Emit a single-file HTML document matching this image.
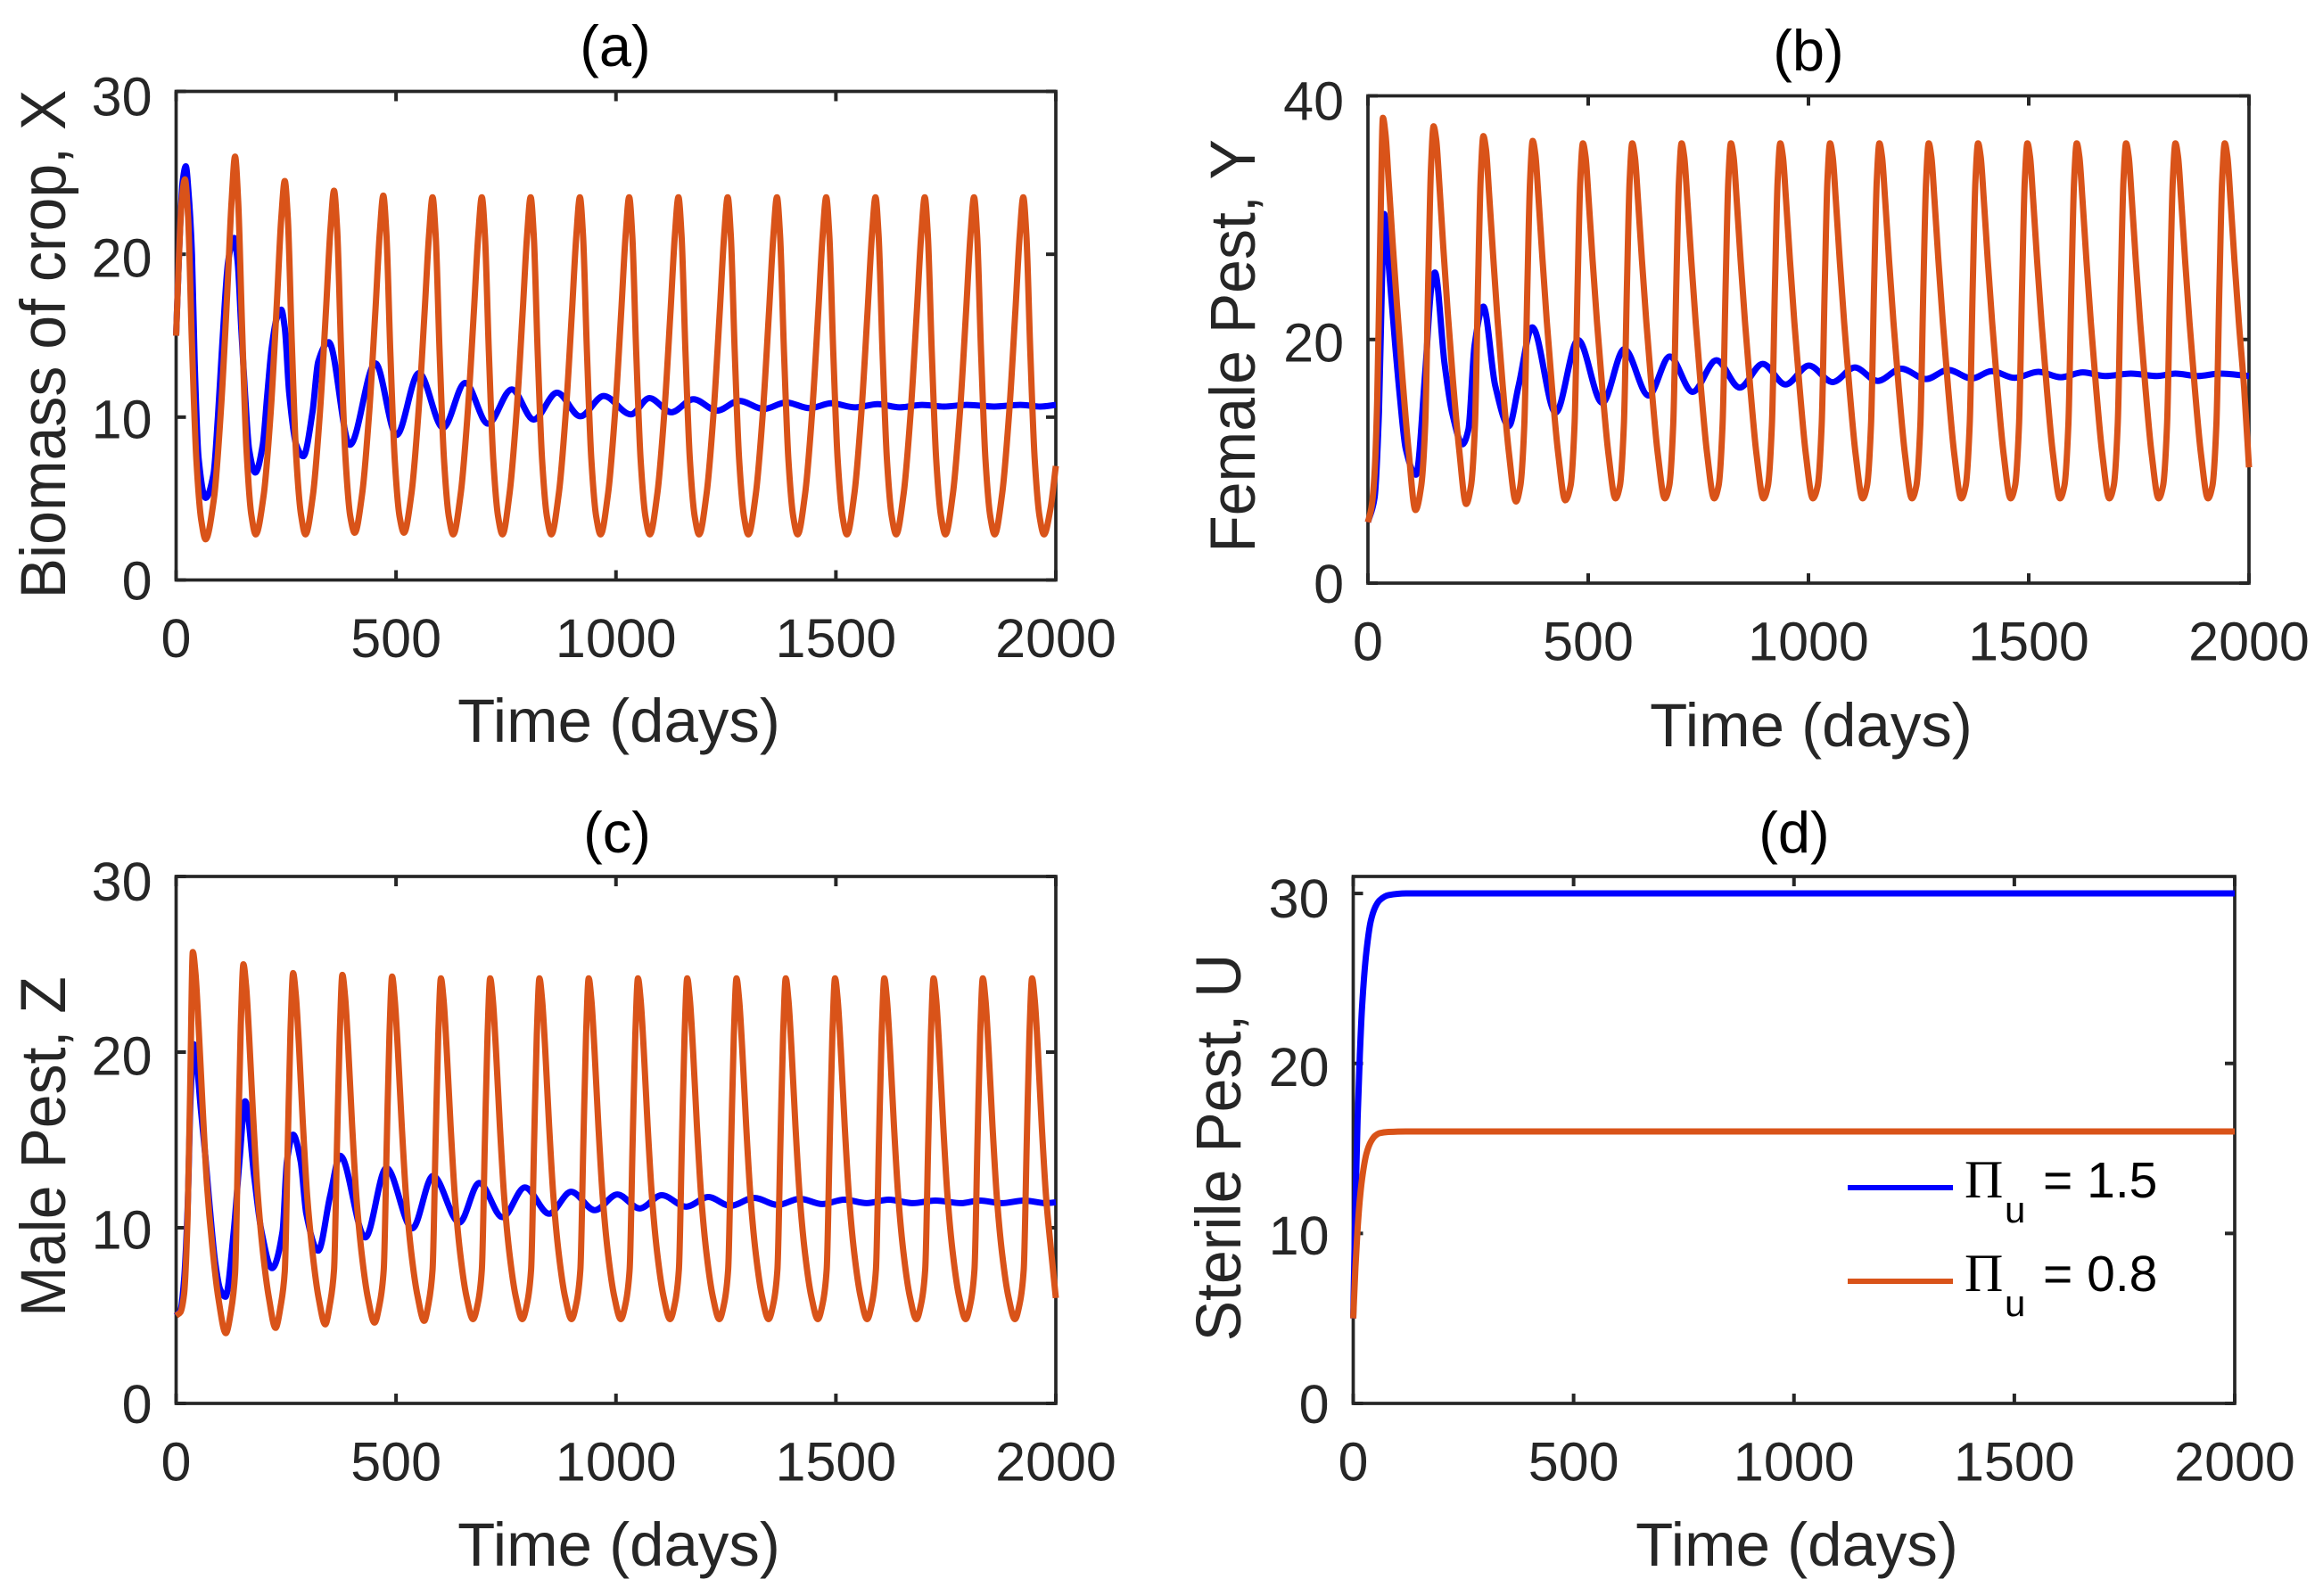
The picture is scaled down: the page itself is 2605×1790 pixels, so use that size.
<!DOCTYPE html>
<html lang="en">
<head>
<meta charset="utf-8">
<title>Crop and pest dynamics</title>
<style>
html,body{margin:0;padding:0;background:#fff;width:2605px;height:1790px;overflow:hidden}
svg{display:block}
text{font-family:"Liberation Sans",Arial,sans-serif}
.tick{font-size:61px;fill:#262626}
.lab{font-size:69px;fill:#262626;text-anchor:middle}
.ttl{font-size:65px;fill:#000;text-anchor:middle}
.ylab{font-size:68px;fill:#262626;text-anchor:middle}
.leg{font-size:57px;fill:#000}
</style>
</head>
<body>
<svg id="fig" xmlns="http://www.w3.org/2000/svg" width="2605" height="1790" viewBox="0 0 2605 1790">
<rect x="0" y="0" width="2605" height="1790" fill="#fff"/>
<g id="panel-a">
<text class="ttl" x="690" y="74">(a)</text>
<text class="lab" x="694" y="832">Time (days)</text>
<text class="ylab" transform="translate(73 386) rotate(-90) scale(1 1.05)">Biomass of crop, X</text>
</g>
<g id="panel-b">
<text class="ttl" x="2028" y="79">(b)</text>
<text class="lab" x="2031" y="837">Time (days)</text>
<text class="ylab" transform="translate(1407 388) rotate(-90) scale(1 1.05)">Female Pest, Y</text>
</g>
<g id="panel-c">
<text class="ttl" x="692" y="956">(c)</text>
<text class="lab" x="694" y="1756">Time (days)</text>
<text class="ylab" transform="translate(73 1286) rotate(-90) scale(1 1.05)">Male Pest, Z</text>
</g>
<g id="panel-d">
<text class="ttl" x="2012" y="956">(d)</text>
<text class="lab" x="2015" y="1756">Time (days)</text>
<text class="ylab" transform="translate(1391 1287) rotate(-90) scale(1 1.05)">Sterile Pest, U</text>
</g>
<g id="legend">
<g>
<line x1="2072" x2="2190" y1="1332" y2="1332" stroke="#0000ff" stroke-width="6"/>
<text class="leg" x="2203" y="1343" style="font-family:'Liberation Serif',serif;font-size:60px">Π</text>
<text x="2248" y="1371" style="font-size:42px">u</text>
<text class="leg" x="2291" y="1343">= 1.5</text>
</g>
<g>
<line x1="2072" x2="2190" y1="1437" y2="1437" stroke="#d95319" stroke-width="6"/>
<text class="leg" x="2203" y="1448" style="font-family:'Liberation Serif',serif;font-size:60px">Π</text>
<text x="2248" y="1476" style="font-size:42px">u</text>
<text class="leg" x="2291" y="1448">= 0.8</text>
</g>
</g>
</svg>
<script>
var xTickLabels = [0, 500, 1000, 1500, 2000];
var yTicksA = [0, 10, 20, 30];
var yTicksB = [0, 20, 40];
var yTicksC = [0, 10, 20, 30];
var yTicksD = [0, 10, 20, 30];

var aBlueT = [0,8,15,22,29,36,42,51,67,85,95,105,118,125,132,140,148,157,166,180,197,207,217,228,239,247,257,273,289,310,323,347,395,453,501,552,607,657,709,763,813,866,919,972,1034,1076,1126,1176,1230,1280,1336,1387,1440,1490,1544,1595,1645,1696,1746,1797,1860,1920,1965,2000];
var aBlueV = [15,21,24.5,25.4,23.5,20,13.5,7.5,5.04,6.5,10,14.5,19.5,20.5,21,19.5,15.5,11.3,8,6.6,8.3,11.3,14.2,16,16.6,15.5,11.5,8.3,7.6,10.3,13.4,14.6,8.3,13.3,8.9,12.7,9.35,12.1,9.6,11.7,9.85,11.5,10.05,11.3,10.17,11.17,10.3,11.1,10.4,11,10.5,10.9,10.55,10.85,10.6,10.8,10.6,10.75,10.65,10.75,10.65,10.75,10.65,10.75];

var aOrangeT = [0,6,12,20,27,36,46,57,67,
86,102,116,126,134,141,150,160,171,181,
199,215,229,239,247,254,263,273,284,294,
311,327,341,351,359,366,375,385,396,406,
423,439,453,463,471,478,487,497,508,518,
535,551,565,575,583,590,599,609,620,630,
647,663,677,687,695,702,711,721,732,742,
758,774,788,798,806,813,822,832,843,853,
870,886,900,910,918,925,934,944,955,965,
982,998,1012,1022,1030,1037,1046,1056,1067,1077,
1094,1110,1124,1134,1142,1149,1158,1168,1179,1189,
1206,1222,1236,1246,1254,1261,1270,1280,1291,1301,
1318,1334,1348,1358,1366,1373,1382,1392,1403,1413,
1430,1446,1460,1470,1478,1485,1494,1504,1515,1525,
1542,1558,1572,1582,1590,1597,1606,1616,1627,1637,
1654,1670,1684,1694,1702,1709,1718,1728,1739,1749,
1766,1782,1796,1806,1814,1821,1830,1840,1851,1861,
1878,1894,1908,1918,1926,1933,1942,1952,1963,1973,
1988,2000];
var aOrangeV = [15,19.5,23,24.6,22.4,14.5,7.4,3.7,2.5,
5,10.5,17.5,23.2,26,23.3,15.5,8,4,2.8,
5.2,10.3,17,22.2,24.5,22.2,14.6,7.6,4,2.8,
5.2,10.3,16.7,21.6,23.9,21.6,14.2,7.5,3.9,2.9,
5.3,10.3,16.5,21.3,23.6,21.3,14,7.4,3.9,2.9,
5.3,10.3,16.5,21.2,23.5,21.2,14,7.4,3.9,2.8,
5.3,10.3,16.5,21.2,23.5,21.2,14,7.4,3.9,2.8,
5.3,10.3,16.5,21.2,23.5,21.2,14,7.4,3.9,2.8,
5.3,10.3,16.5,21.2,23.5,21.2,14,7.4,3.9,2.8,
5.3,10.3,16.5,21.2,23.5,21.2,14,7.4,3.9,2.8,
5.3,10.3,16.5,21.2,23.5,21.2,14,7.4,3.9,2.8,
5.3,10.3,16.5,21.2,23.5,21.2,14,7.4,3.9,2.8,
5.3,10.3,16.5,21.2,23.5,21.2,14,7.4,3.9,2.8,
5.3,10.3,16.5,21.2,23.5,21.2,14,7.4,3.9,2.8,
5.3,10.3,16.5,21.2,23.5,21.2,14,7.4,3.9,2.8,
5.3,10.3,16.5,21.2,23.5,21.2,14,7.4,3.9,2.8,
5.3,10.3,16.5,21.2,23.5,21.2,14,7.4,3.9,2.8,
5.3,10.3,16.5,21.2,23.5,21.2,14,7.4,3.9,2.8,
4.4,7];

var bBlueT = [0,15,25,32,37,42,50,62,72,86,109,130,144,152,174,191,215,228,242,262,289,320,342,373,426,477,532,582,637,685,737,791,844,896,948,1001,1055,1105,1157,1211,1267,1317,1371,1416,1468,1522,1573,1623,1674,1732,1791,1833,1884,1934,2000];
var bBlueV = [5,7,14,25,30.3,28.5,24.8,19.5,15.5,11,8.9,17.3,24.3,25.5,18,14,11.4,12.6,19.5,22.7,16.2,12.9,16.2,21,14,19.95,14.8,19.2,15.4,18.6,15.7,18.3,16.05,18,16.3,17.86,16.5,17.7,16.6,17.6,16.75,17.5,16.8,17.4,16.85,17.35,16.9,17.3,17,17.2,17,17.2,17,17.2,17];

var bOrangeT = [0,8,15,21,28,34,40,47,56,66,78,92,108,
121,130,137,143,149,155,162,171,181,193,207,223,
234,243,250,256,262,268,275,284,294,306,320,336,
346,355,362,368,374,380,387,396,406,418,432,448,
460,469,476,482,488,494,501,510,520,532,546,562,
572,581,588,594,600,606,613,622,632,644,658,674,
684,693,700,706,712,718,725,734,744,756,770,786,
796,805,812,818,824,830,837,846,856,868,882,898,
908,917,924,930,936,942,949,958,968,980,994,1010,
1021,1030,1037,1043,1049,1055,1062,1071,1081,1093,1107,1123,
1133,1142,1149,1155,1161,1167,1174,1183,1193,1205,1219,1235,
1245,1254,1261,1267,1273,1279,1286,1295,1305,1317,1331,1347,
1357,1366,1373,1379,1385,1391,1398,1407,1417,1429,1443,1459,
1469,1478,1485,1491,1497,1503,1510,1519,1529,1541,1555,1571,
1581,1590,1597,1603,1609,1615,1622,1631,1641,1653,1667,1683,
1693,1702,1709,1715,1721,1727,1734,1743,1753,1765,1779,1795,
1805,1814,1821,1827,1833,1839,1846,1855,1865,1877,1891,1907,
1917,1926,1933,1939,1945,1951,1958,1967,1977,1989,2000];
var bOrangeV = [5,6.2,9,15,28.5,38.2,36.8,33,28,22.8,17,11,6,
8,13,25,34,37.5,36.4,32.8,27.6,22.3,16.6,11,6.5,
8,13,24.7,33.3,36.7,35.6,32,27,21.7,16.2,10.7,6.7,
8,13,24.5,33,36.3,35.2,31.7,26.7,21.5,16,10.6,6.8,
8,13,24.5,33,36.1,35,31.5,26.5,21.4,16,10.6,6.95,
8,13,24.5,33,36.1,35,31.5,26.5,21.4,16,10.6,6.95,
8,13,24.5,33,36.1,35,31.5,26.5,21.4,16,10.6,6.95,
8,13,24.5,33,36.1,35,31.5,26.5,21.4,16,10.6,6.95,
8,13,24.5,33,36.1,35,31.5,26.5,21.4,16,10.6,6.95,
8,13,24.5,33,36.1,35,31.5,26.5,21.4,16,10.6,6.95,
8,13,24.5,33,36.1,35,31.5,26.5,21.4,16,10.6,6.95,
8,13,24.5,33,36.1,35,31.5,26.5,21.4,16,10.6,6.95,
8,13,24.5,33,36.1,35,31.5,26.5,21.4,16,10.6,6.95,
8,13,24.5,33,36.1,35,31.5,26.5,21.4,16,10.6,6.95,
8,13,24.5,33,36.1,35,31.5,26.5,21.4,16,10.6,6.95,
8,13,24.5,33,36.1,35,31.5,26.5,21.4,16,10.6,6.95,
8,13,24.5,33,36.1,35,31.5,26.5,21.4,16,10.6,6.95,
8,13,24.5,33,36.1,35,31.5,26.5,21.4,16,9.5];

var cBlueT = [0,10,18,26,33,40,46,56,66,76,89,100,112,131,144,157,178,194,218,242,252,266,283,296,323,350,373,430,478,537,584,644,689,742,793,848,898,952,1003,1054,1104,1160,1210,1260,1314,1368,1418,1469,1519,1570,1620,1675,1726,1785,1827,1877,1928,1978,2000];
var cBlueV = [5,5.3,7,11,17.5,20.45,19.6,16.8,14.2,11.3,8,6.5,6.07,9.8,13.8,17.2,12.8,9.8,7.7,9.8,13.8,15.3,13.8,10.8,8.7,11.8,14.1,9.45,13.4,9.97,12.95,10.3,12.55,10.6,12.3,10.8,12.05,11,11.9,11.1,11.85,11.2,11.75,11.25,11.7,11.3,11.65,11.35,11.6,11.4,11.6,11.4,11.55,11.4,11.55,11.4,11.55,11.4,11.45];

var cOrangeT = [0,10,18,26,32,38,44,51,60,70,82,96,113,
125,134,141,147,153,159,166,175,185,197,211,226,
238,247,254,260,266,272,279,288,298,310,324,339,
350,359,366,372,378,384,391,400,410,422,436,451,
463,472,479,485,491,497,504,513,523,535,549,564,
574,583,590,596,602,608,615,624,634,646,660,675,
686,695,702,708,714,720,727,736,746,758,772,787,
798,807,814,820,826,832,839,848,858,870,884,899,
910,919,926,932,938,944,951,960,970,982,996,1011,
1022,1031,1038,1044,1050,1056,1063,1072,1082,1094,1108,1123,
1134,1143,1150,1156,1162,1168,1175,1184,1194,1206,1220,1235,
1246,1255,1262,1268,1274,1280,1287,1296,1306,1318,1332,1347,
1358,1367,1374,1380,1386,1392,1399,1408,1418,1430,1444,1459,
1470,1479,1486,1492,1498,1504,1511,1520,1530,1542,1556,1571,
1582,1591,1598,1604,1610,1616,1623,1632,1642,1654,1668,1683,
1694,1703,1710,1716,1722,1728,1735,1744,1754,1766,1780,1795,
1806,1815,1822,1828,1834,1840,1847,1856,1866,1878,1892,1907,
1918,1927,1934,1940,1946,1952,1959,1968,1978,1990,2000];
var cOrangeV = [5,5.2,6.2,10.5,18,25.7,24.5,21.5,17,12.5,9,6,4,
5.3,7.4,15,21.5,25,23.8,20.9,16.4,12.1,8.7,6,4.3,
5.6,7.5,15,21.2,24.5,23.3,20.5,16,11.8,8.6,6,4.5,
5.7,7.6,15,21,24.4,23.2,20.4,15.9,11.7,8.5,6,4.6,
5.7,7.6,15,21,24.3,23,20.2,15.8,11.7,8.5,6.1,4.7,
5.7,7.6,15,21,24.2,23,20.2,15.8,11.7,8.5,6.1,4.8,
5.7,7.6,15,21,24.2,23,20.2,15.8,11.7,8.5,6.1,4.8,
5.7,7.6,15,21,24.2,23,20.2,15.8,11.7,8.5,6.1,4.8,
5.7,7.6,15,21,24.2,23,20.2,15.8,11.7,8.5,6.1,4.8,
5.7,7.6,15,21,24.2,23,20.2,15.8,11.7,8.5,6.1,4.8,
5.7,7.6,15,21,24.2,23,20.2,15.8,11.7,8.5,6.1,4.8,
5.7,7.6,15,21,24.2,23,20.2,15.8,11.7,8.5,6.1,4.8,
5.7,7.6,15,21,24.2,23,20.2,15.8,11.7,8.5,6.1,4.8,
5.7,7.6,15,21,24.2,23,20.2,15.8,11.7,8.5,6.1,4.8,
5.7,7.6,15,21,24.2,23,20.2,15.8,11.7,8.5,6.1,4.8,
5.7,7.6,15,21,24.2,23,20.2,15.8,11.7,8.5,6.1,4.8,
5.7,7.6,15,21,24.2,23,20.2,15.8,11.7,8.5,6.1,4.8,
5.7,7.6,15,21,24.2,23,20.2,15.8,11.7,8.5,6];

var dBlueT = [0,5,10,15,20,30,40,50,60,80,120,2000];
var dBlueV = [5,11.7,16.8,20.5,23.3,26.6,28.4,29.2,29.6,29.9,30,30];
var dOrangeT = [0,5,10,15,20,30,40,50,60,80,120,2000];
var dOrangeV = [5,8,10.3,12,13.2,14.7,15.4,15.75,15.9,15.97,16,16];

var NS = 'http://www.w3.org/2000/svg';
var INK = '#262626';

function pchipPath(xs, ys) {
  var n = xs.length, h = [], s = [], m = [], i;
  for (i = 0; i < n - 1; i++) {
    h[i] = xs[i + 1] - xs[i];
    s[i] = (ys[i + 1] - ys[i]) / h[i];
  }
  m[0] = s[0];
  m[n - 1] = s[n - 2];
  for (i = 1; i < n - 1; i++) {
    if (s[i - 1] * s[i] <= 0) { m[i] = 0; }
    else {
      var w1 = 2 * h[i] + h[i - 1], w2 = h[i] + 2 * h[i - 1];
      m[i] = (w1 + w2) / (w1 / s[i - 1] + w2 / s[i]);
    }
  }
  var d = 'M' + xs[0].toFixed(2) + ' ' + ys[0].toFixed(2);
  for (i = 0; i < n - 1; i++) {
    d += 'C' + (xs[i] + h[i] / 3).toFixed(2) + ' ' + (ys[i] + m[i] * h[i] / 3).toFixed(2) + ' ' +
         (xs[i + 1] - h[i] / 3).toFixed(2) + ' ' + (ys[i + 1] - m[i + 1] * h[i] / 3).toFixed(2) + ' ' +
         xs[i + 1].toFixed(2) + ' ' + ys[i + 1].toFixed(2);
  }
  return d;
}

function addLine(g, x1, y1, x2, y2, w, name) {
  var l = document.createElementNS(NS, 'line');
  l.setAttribute('x1', x1);
  l.setAttribute('y1', y1);
  l.setAttribute('x2', x2);
  l.setAttribute('y2', y2);
  l.setAttribute('stroke', INK);
  l.setAttribute('stroke-width', w);
  
  
  g.appendChild(l);
}

function addTickLabel(g, x, y, anchor, value, name) {
  var t = document.createElementNS(NS, 'text');
  t.setAttribute('class', 'tick');
  t.setAttribute('x', x);
  t.setAttribute('y', y);
  t.setAttribute('text-anchor', anchor);
  
  
  t.textContent = value;
  g.appendChild(t);
}

function addSeries(g, sx, sy, ts, vs, color, name) {
  var p = document.createElementNS(NS, 'path');
  p.setAttribute('d', pchipPath(ts.map(sx), vs.map(sy)));
  p.setAttribute('fill', 'none');
  p.setAttribute('stroke', color);
  p.setAttribute('stroke-width', '7');
  p.setAttribute('stroke-linejoin', 'round');
  
  
  g.appendChild(p);
}

function drawPanel(id, L, R, T, B, yMax, yTicks, bT, bV, oT, oV) {
  var g = document.getElementById('panel-' + id);
  var sx = function (t) { return L + (t / 2000) * (R - L); };
  var sy = function (v) { return B - (v / yMax) * (B - T); };
  var frame = document.createElementNS(NS, 'rect');
  frame.setAttribute('x', L);
  frame.setAttribute('y', T);
  frame.setAttribute('width', R - L);
  frame.setAttribute('height', B - T);
  frame.setAttribute('fill', 'none');
  frame.setAttribute('stroke', INK);
  frame.setAttribute('stroke-width', '3.7');
  
  
  g.appendChild(frame);
  xTickLabels.forEach(function (v) {
    var x = sx(v);
    addLine(g, x, B, x, B - 11, 4, 'x-tick-' + id + '-' + v);
    addLine(g, x, T, x, T + 11, 4, 'x-tick-top-' + id + '-' + v);
    addTickLabel(g, x, B + 86.5, 'middle', v, 'x-tick-label-' + id + '-' + v);
  });
  yTicks.forEach(function (v) {
    var y = sy(v);
    addLine(g, L, y, L + 11, y, 4, 'y-tick-' + id + '-' + v);
    addLine(g, R, y, R - 11, y, 4, 'y-tick-right-' + id + '-' + v);
    addTickLabel(g, L - 27, y + 22 + 5 * (v / yMax), 'end', v, 'y-tick-label-' + id + '-' + v);
  });
  addSeries(g, sx, sy, bT, bV, '#0000ff', 'series-high-' + id);
  addSeries(g, sx, sy, oT, oV, '#d95319', 'series-low-' + id);
}

drawPanel('a', 197.5, 1184, 102.5, 650.5, 30, yTicksA, aBlueT, aBlueV, aOrangeT, aOrangeV);
drawPanel('b', 1534, 2522, 107.5, 654, 40, yTicksB, bBlueT, bBlueV, bOrangeT, bOrangeV);
drawPanel('c', 197.5, 1184, 983, 1574, 30, yTicksC, cBlueT, cBlueV, cOrangeT, cOrangeV);
drawPanel('d', 1517.5, 2506, 983, 1574, 31, yTicksD, dBlueT, dBlueV, dOrangeT, dOrangeV);
</script>
</body>
</html>
